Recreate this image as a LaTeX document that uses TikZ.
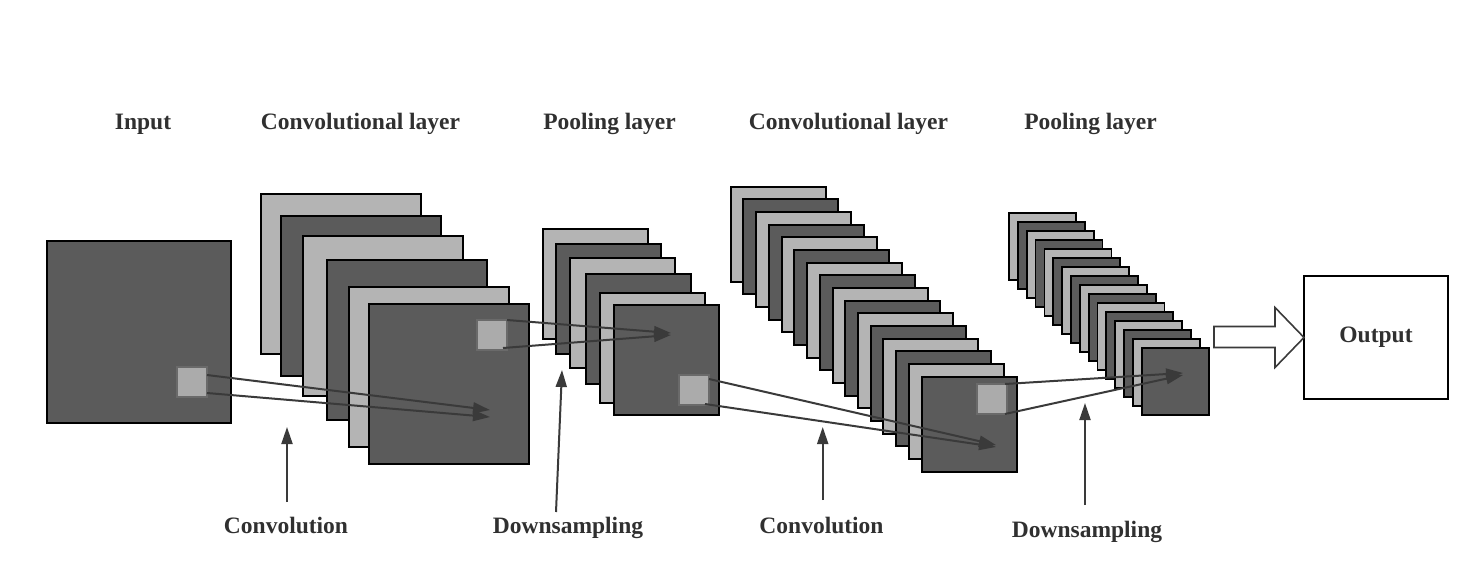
\documentclass[tikz,border=0pt]{standalone}
\usepackage{fontspec}
\setmainfont{Liberation Serif}
\usepackage{tikz}
\usetikzlibrary{calc,arrows.meta}

\definecolor{sheet0}{HTML}{5B5B5B}
\definecolor{sheet1}{HTML}{B4B4B4}
\definecolor{kernfill}{HTML}{ABABAB}
\definecolor{kernline}{HTML}{6A6A6A}
\definecolor{ink}{HTML}{3A3A3A}
\definecolor{txt}{HTML}{303030}

\tikzset{
    fmap/.style={draw=black, line width=2pt, anchor=north west, inner sep=0pt, outer sep=0pt},
    kern/.style={draw=kernline, fill=kernfill, line width=1.5pt, minimum size=30pt, anchor=north west, inner sep=0pt, outer sep=0pt},
    arr/.style={draw=ink, line width=2pt, -{Triangle[length=17pt,width=11pt]}},
    lbl/.style={text=txt, font=\fontsize{23.5}{28}\selectfont\bfseries, anchor=base, inner sep=2pt}
}

\begin{document}
\begin{tikzpicture}[x=1pt, y=-1pt]

    \useasboundingbox (0,0) rectangle (1479,581);

    \node[lbl] (tIn) at (143,129) {Input};
    \node[lbl] (tConvA) at (360.5,129) {Convolutional layer};
    \node[lbl] (tPoolA) at (609.5,129) {Pooling layer};
    \node[lbl] (tConvB) at (848.5,129) {Convolutional layer};
    \node[lbl] (tPoolB) at (1090.5,129) {Pooling layer};

    \node[fmap, fill=sheet0, minimum width=184pt, minimum height=182pt] (input) at (47,241) {};

    \foreach \x/\y [count=\i] in {261/194, 281/216, 303/236, 327/260, 349/287, 369/304} {
        \pgfmathtruncatemacro\c{mod(\i,2)}
        \node[fmap, fill=sheet\c, minimum size=160pt] (cA\i) at (\x,\y) {};
    }

    \foreach \x/\y [count=\i] in {543/229, 556/244, 570/258, 586/274, 600/293, 614/305} {
        \pgfmathtruncatemacro\c{mod(\i,2)}
        \node[fmap, fill=sheet\c, minimum width=105pt, minimum height=110pt] (pA\i) at (\x,\y) {};
    }

    \foreach \i in {1,...,16} {
        \pgfmathtruncatemacro\c{mod(\i,2)}
        \node[fmap, fill=sheet\c, minimum size=95pt] (cB\i) at ({730.7+(\i-1)*12.73},{186.7+(\i-1)*12.67}) {};
    }

    \foreach \i in {1,...,16} {
        \pgfmathtruncatemacro\c{mod(\i,2)}
        \node[fmap, fill=sheet\c, line width=1.8pt, minimum size=67pt] (pB\i) at ({1009+(\i-1)*8.85},{212.7+(\i-1)*9}) {};
    }

    \node[draw=black, line width=1.6pt, minimum width=144pt, minimum height=123pt, inner sep=0pt, outer sep=0pt,
          text=txt, font=\fontsize{23.5}{28}\selectfont\bfseries] (out) at (1376,337.5) {Output};

    \draw[draw=ink, fill=white, line width=1.6pt, line join=miter]
        (out.west) -- ++(-29,30) -- ++(0,-20) -- ++(-61,0) -- ++(0,-21) -- ++(61,0) -- ++(0,-19) -- cycle;

    \node[kern] (kIn) at (177,367) {};
    \node[kern] (kConvA) at (477,320) {};
    \node[kern] (kPoolA) at (679,375) {};
    \node[kern] (kConvB) at (977,384) {};

    \coordinate (hA1) at (490,410);
    \coordinate (hA2) at (490,417);
    \coordinate (hB1) at (671,333);
    \coordinate (hB2) at (671,335);
    \coordinate (hC1) at (996,445);
    \coordinate (hC2) at (996,447);
    \coordinate (hD1) at (1183,373);
    \coordinate (hD2) at (1183,375);

    \draw[arr] ($(kIn.north east)+(0,8)$) -- (hA1);
    \draw[arr] ($(kIn.south east)+(0,-4)$) -- (hA2);
    \draw[arr] (kConvA.north east) -- (hB1);
    \draw[arr] ($(kConvA.south east)+(-4,-2)$) -- (hB2);
    \draw[arr] ($(kPoolA.north east)+(0,4)$) -- (hC1);
    \draw[arr] ($(kPoolA.south east)+(-4,-1)$) -- (hC2);
    \draw[arr] ($(kConvB.north east)+(-2,0)$) -- (hD1);
    \draw[arr] ($(kConvB.south east)+(-2,0)$) -- (hD2);

    \node[lbl] (bConvA) at (286,533) {Convolution};
    \node[lbl] (bDownA) at (568,533) {Downsampling};
    \node[lbl] (bConvB) at (821.5,533) {Convolution};
    \node[lbl] (bDownB) at (1087,537) {Downsampling};

    \coordinate (uA) at (287,427);
    \coordinate (uB) at (562,370);
    \coordinate (uC) at (822.7,427);
    \coordinate (uD) at (1085,403);

    \draw[arr] ($(bConvA.base)+(1,-31)$) -- (uA);
    \draw[arr] ($(bDownA.base)+(-12,-21)$) -- (uB);
    \draw[arr] ($(bConvB.base)+(1.2,-33)$) -- (uC);
    \draw[arr] ($(bDownB.base)+(-2,-32)$) -- (uD);

\end{tikzpicture}
\end{document}
